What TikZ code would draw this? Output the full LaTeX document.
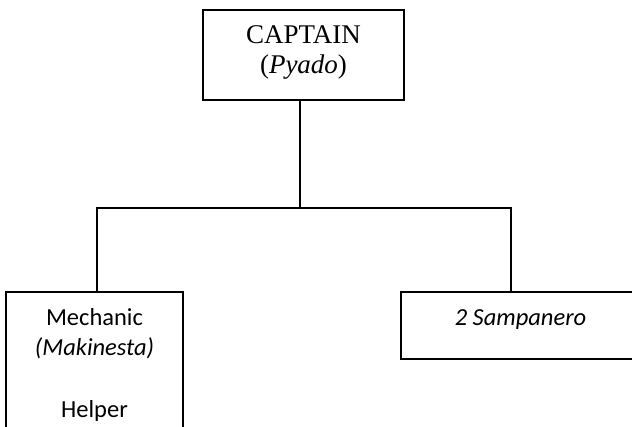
\documentclass[tikz,border=0pt]{standalone}
\usepackage{fontspec}
\setmainfont{Liberation Serif}
\newfontfamily\calib{Carlito}
\begin{document}
\begin{tikzpicture}[x=1pt,y=-1pt,
  boxnode/.style={draw=black,line width=1.2pt,rectangle,inner sep=0pt,fill=white},
  conn/.style={draw=black,line width=1.2pt},
  captext/.style={anchor=base,inner sep=0pt,font=\fontsize{27}{30}\selectfont},
  caltext/.style={anchor=base,inner sep=0pt,font=\calib\fontsize{24.5}{29}\selectfont}]
\useasboundingbox (0,0) rectangle (632,426);
\fill[white] (0,0) rectangle (632,426);
% boxes
\node[boxnode,minimum width=201pt,minimum height=90pt] (cap) at (303.5,55) {};
\node[boxnode,minimum width=177pt,minimum height=150pt] (mech) at (94.5,367) {};
\node[boxnode,minimum width=239pt,minimum height=67pt] (samp) at (520.5,325.5) {};
% texts
\node[captext] (t1) at (303.5,43) {CAPTAIN};
\node[captext] (t2) at (303.5,73) {(\textit{Pyado})};
\node[caltext] (t3) at (94.5,325) {Mechanic};
\node[caltext] (t4) at (94.5,355) {\itshape (Makinesta)};
\node[caltext] (t5) at (94.5,417) {Helper};
\node[caltext] (t6) at (520.5,325) {\itshape 2 Sampanero};
% connectors
\coordinate (j) at (300,208);
\coordinate (l) at (97,208);
\coordinate (r) at (511,208);
\draw[conn] (cap.south -| j) -- (j);
\draw[conn,line cap=rect] (mech.north -| l) -- (l) -- (r) -- (samp.north -| r);
\end{tikzpicture}
\end{document}
